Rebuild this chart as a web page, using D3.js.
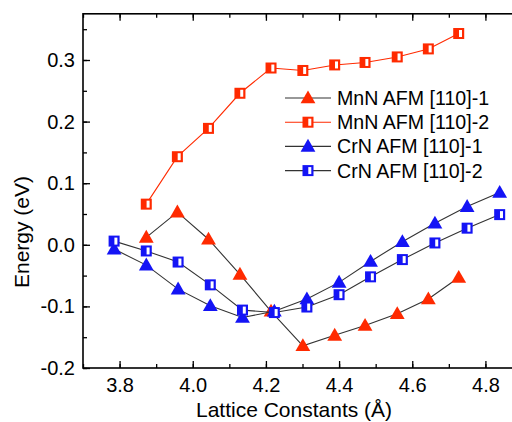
<!DOCTYPE html>
<html>
<head>
<meta charset="utf-8">
<script src="https://cdn.jsdelivr.net/npm/d3@7"></script>
<style>
  body { margin: 0; background: #fff; }
  svg { display: block; font-family: "Liberation Sans", Arial, sans-serif; }
</style>
</head>
<body>
<svg id="chart" width="512" height="422"></svg>
<script>
// lattice constants (Å)
const mnnX = [3.873, 3.958, 4.043, 4.129, 4.214, 4.301, 4.388, 4.471, 4.559, 4.644, 4.727];
const crnX = [3.785, 3.873, 3.960, 4.048, 4.136, 4.223, 4.312, 4.400, 4.486, 4.573, 4.662, 4.750, 4.839];

// energies (eV)
const mnn1 = [0.012, 0.053, 0.009, -0.048, -0.108, -0.164, -0.147, -0.131, -0.112, -0.088, -0.053];
const mnn2 = [0.066, 0.143, 0.189, 0.246, 0.287, 0.283, 0.292, 0.296, 0.305, 0.318, 0.343];
const crn1 = [-0.007, -0.033, -0.072, -0.099, -0.118, -0.108, -0.088, -0.061, -0.027, 0.005, 0.035, 0.062, 0.085];
const crn2 = [0.006, -0.010, -0.028, -0.065, -0.106, -0.110, -0.101, -0.081, -0.052, -0.024, 0.003, 0.027, 0.049];

const xTicks = [3.8, 4.0, 4.2, 4.4, 4.6, 4.8];
const yTicks = [-0.2, -0.1, 0.0, 0.1, 0.2, 0.3];

const RED = "#ff2a00";
const BLUE = "#1414f5";

const series = [
    { name: "MnN AFM [110]-1", xs: mnnX, ys: mnn1, color: RED, shape: "tri", line: "#333" },
    { name: "MnN AFM [110]-2", xs: mnnX, ys: mnn2, color: RED, shape: "sq", line: RED },
    { name: "CrN AFM [110]-1", xs: crnX, ys: crn1, color: BLUE, shape: "tri", line: "#333" },
    { name: "CrN AFM [110]-2", xs: crnX, ys: crn2, color: BLUE, shape: "sq", line: "#333" }
];

const svg = d3.select("#chart");
const pLeft = 83, pRight = 522, pTop = 13.8, pBottom = 368;

const x = d3.scaleLinear().domain([3.7, 4.9]).range([pLeft, pRight]);
const y = d3.scaleLinear().domain([-0.2, 0.375]).range([pBottom, pTop]);

// plain hyphen minus like the original
const fmt = d => d3.format(".1f")(d).replace("−", "-");

// ticks, drawn inward
const xMinor = d3.range(3.7, 4.91, 0.1).map(v => +v.toFixed(2));
const yMinor = d3.range(-0.2, 0.376, 0.05).map(v => +v.toFixed(3));

const styleTicks = g => {
    g.select(".domain").remove();
    g.selectAll(".tick line").attr("stroke", "#000").attr("stroke-width", 1.3);
    g.selectAll(".tick text").attr("font-size", 20).attr("fill", "#000")
        .attr("font-family", "Liberation Sans, Arial, sans-serif");
};

svg.append("g").attr("transform", `translate(0,${pBottom})`)
    .call(d3.axisBottom(x).tickValues(xMinor).tickSizeInner(-4).tickSizeOuter(0).tickFormat(""))
    .call(styleTicks);
svg.append("g").attr("transform", `translate(0,${pTop})`)
    .call(d3.axisTop(x).tickValues(xMinor).tickSizeInner(-4).tickSizeOuter(0).tickFormat(""))
    .call(styleTicks);
svg.append("g").attr("transform", `translate(${pLeft},0)`)
    .call(d3.axisLeft(y).tickValues(yMinor).tickSizeInner(-4).tickSizeOuter(0).tickFormat(""))
    .call(styleTicks);

// major ticks longer
svg.append("g").attr("transform", `translate(0,${pBottom})`)
    .call(d3.axisBottom(x).tickValues(xTicks).tickSizeInner(-7).tickSizeOuter(0).tickPadding(10).tickFormat(fmt))
    .call(styleTicks);
svg.append("g").attr("transform", `translate(0,${pTop})`)
    .call(d3.axisTop(x).tickValues(xTicks).tickSizeInner(-7).tickSizeOuter(0).tickFormat(""))
    .call(styleTicks);
svg.append("g").attr("transform", `translate(${pLeft},0)`)
    .call(d3.axisLeft(y).tickValues(yTicks).tickSizeInner(-7).tickSizeOuter(0).tickPadding(8).tickFormat(fmt))
    .call(styleTicks);

// frame
svg.append("rect")
    .attr("x", pLeft).attr("y", pTop)
    .attr("width", pRight - pLeft).attr("height", pBottom - pTop)
    .attr("fill", "none").attr("stroke", "#000").attr("stroke-width", 1.6);

// markers
const triPath = d3.symbol().type(d3.symbolTriangle).size(95);

function drawMarker(g, s, cx, cy) {
    if (s.shape === "tri") {
        g.append("path")
            .attr("d", triPath())
            .attr("transform", `translate(${cx},${cy + 1})`)
            .attr("fill", s.color);
    } else {
        g.append("rect")
            .attr("x", cx - 5.5).attr("y", cy - 5.5).attr("width", 11).attr("height", 11)
            .attr("fill", s.color);
        g.append("rect")
            .attr("x", cx + 0.3).attr("y", cy - 3.5).attr("width", 3).attr("height", 7)
            .attr("fill", "#fff");
    }
}

const line = d3.line().x(d => x(d[0])).y(d => y(d[1]));

series.forEach(s => {
    const pts = s.xs.map((v, i) => [v, s.ys[i]]);
    const g = svg.append("g");
    g.append("path")
        .attr("d", line(pts))
        .attr("fill", "none")
        .attr("stroke", s.line)
        .attr("stroke-width", 1.1);
    pts.forEach(p => drawMarker(g, s, x(p[0]), y(p[1])));
});

// legend
const legend = svg.append("g");
series.forEach((s, i) => {
    const ly = 98 + i * 24.2;
    legend.append("line")
        .attr("x1", 285).attr("x2", 331).attr("y1", ly).attr("y2", ly)
        .attr("stroke", s.line).attr("stroke-width", 1.1);
    drawMarker(legend, s, 308, ly);
    legend.append("text")
        .attr("x", 337).attr("y", ly + 7)
        .attr("font-size", 19.6)
        .attr("fill", "#000")
        .text(s.name);
});

// axis titles
svg.append("text")
    .attr("x", 294).attr("y", 417)
    .attr("text-anchor", "middle")
    .attr("font-size", 21)
    .text("Lattice Constants (Å)");

svg.append("text")
    .attr("transform", "translate(29,232) rotate(-90)")
    .attr("text-anchor", "middle")
    .attr("font-size", 21)
    .text("Energy (eV)");
</script>
</body>
</html>
